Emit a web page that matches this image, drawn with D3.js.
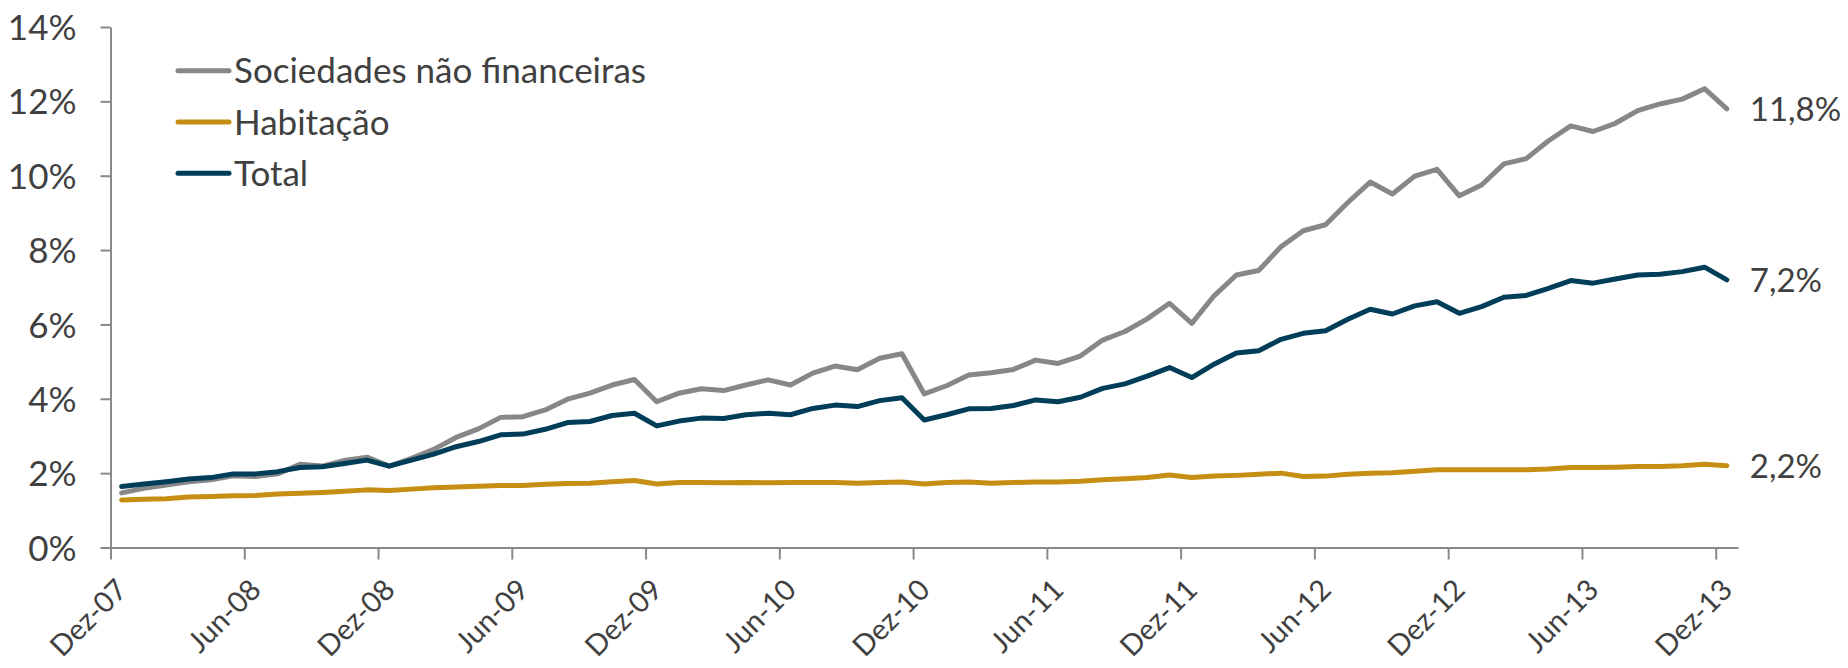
<!DOCTYPE html>
<html>
<head>
<meta charset="utf-8">
<script src="https://cdn.jsdelivr.net/npm/d3@7/dist/d3.min.js"></script>
<style>
  html, body { margin: 0; padding: 0; background: #ffffff; }
  svg { display: block; }
  text { font-family: Lato, "Open Sans", sans-serif; fill: #404040; }
</style>
</head>
<body>
<svg id="chart" width="1848" height="668"></svg>
<script>
// ---- DATA ----
const categories = [
  "Dez-07",
  "Jan-08","Fev-08","Mar-08","Abr-08","Mai-08","Jun-08","Jul-08","Ago-08","Set-08","Out-08","Nov-08","Dez-08",
  "Jan-09","Fev-09","Mar-09","Abr-09","Mai-09","Jun-09","Jul-09","Ago-09","Set-09","Out-09","Nov-09","Dez-09",
  "Jan-10","Fev-10","Mar-10","Abr-10","Mai-10","Jun-10","Jul-10","Ago-10","Set-10","Out-10","Nov-10","Dez-10",
  "Jan-11","Fev-11","Mar-11","Abr-11","Mai-11","Jun-11","Jul-11","Ago-11","Set-11","Out-11","Nov-11","Dez-11",
  "Jan-12","Fev-12","Mar-12","Abr-12","Mai-12","Jun-12","Jul-12","Ago-12","Set-12","Out-12","Nov-12","Dez-12",
  "Jan-13","Fev-13","Mar-13","Abr-13","Mai-13","Jun-13","Jul-13","Ago-13","Set-13","Out-13","Nov-13","Dez-13"
];
const xTickLabels = ["Dez-07","Jun-08","Dez-08","Jun-09","Dez-09","Jun-10","Dez-10","Jun-11","Dez-11","Jun-12","Dez-12","Jun-13","Dez-13"];
const yTicks = [0, 2, 4, 6, 8, 10, 12, 14];
const seriesNames = ["Sociedades não financeiras", "Habitação", "Total"];
const sociedades = [
  1.47,1.59,1.68,1.77,1.82,1.93,1.91,1.98,2.24,2.19,2.34,2.43,2.19,
  2.40,2.64,2.96,3.19,3.50,3.52,3.70,3.99,4.15,4.37,4.52,3.92,
  4.15,4.27,4.22,4.37,4.51,4.37,4.69,4.88,4.78,5.09,5.21,4.13,
  4.35,4.64,4.70,4.79,5.04,4.95,5.15,5.58,5.81,6.15,6.57,6.03,
  6.77,7.33,7.45,8.09,8.52,8.68,9.28,9.83,9.51,9.99,10.17,9.46,
  9.75,10.32,10.46,10.94,11.34,11.19,11.41,11.75,11.93,12.06,12.34,11.80
];
const habitacao = [
  1.28,1.30,1.31,1.36,1.37,1.39,1.40,1.44,1.46,1.48,1.51,1.55,1.53,
  1.57,1.61,1.63,1.65,1.67,1.67,1.70,1.72,1.73,1.77,1.80,1.71,
  1.75,1.75,1.74,1.75,1.74,1.75,1.75,1.75,1.73,1.75,1.76,1.71,
  1.75,1.76,1.73,1.75,1.76,1.76,1.78,1.82,1.85,1.88,1.95,1.88,
  1.92,1.94,1.97,2.00,1.91,1.92,1.97,2.00,2.01,2.05,2.09,2.09,
  2.09,2.09,2.09,2.11,2.15,2.15,2.16,2.18,2.18,2.20,2.24,2.20
];
const total = [
  1.64,1.71,1.77,1.84,1.88,1.98,1.98,2.04,2.15,2.17,2.26,2.35,2.19,
  2.35,2.51,2.71,2.85,3.03,3.05,3.18,3.36,3.39,3.55,3.61,3.27,
  3.40,3.48,3.47,3.57,3.61,3.57,3.74,3.83,3.79,3.95,4.03,3.43,
  3.57,3.73,3.74,3.82,3.97,3.92,4.04,4.28,4.40,4.61,4.84,4.57,
  4.93,5.23,5.29,5.60,5.76,5.83,6.14,6.41,6.28,6.50,6.61,6.30,
  6.48,6.73,6.78,6.97,7.18,7.11,7.22,7.33,7.35,7.42,7.54,7.20
];
const endLabels = ["11,8%", "2,2%", "7,2%"];
const colors = ["#878787", "#C68E12", "#003D58"];

// ---- CHART ----
(function () {
const svg = d3.select("#chart");
const plotLeft = 110.5, plotRight = 1738, plotTop = 27, plotBottom = 547.5;
const FS = 35;
const XFS = 29;
const EFS = 33;

const x = d3.scaleLinear().domain([0, categories.length]).range([plotLeft, plotRight]);
const y = d3.scaleLinear().domain([0, 14]).range([plotBottom, plotTop]);

const series = [sociedades, habitacao, total];

// Y axis
const yAxis = svg.append("g")
  .attr("transform", `translate(${plotLeft},0)`)
  .call(d3.axisLeft(y).tickValues(yTicks).tickFormat(d => d + "%").tickSize(10).tickSizeOuter(0).tickPadding(24));
yAxis.select(".domain").attr("stroke", "#898989").attr("stroke-width", 2);
yAxis.selectAll(".tick line").attr("stroke", "#898989").attr("stroke-width", 2);
yAxis.selectAll(".tick text").attr("font-size", FS).attr("font-family", "Lato").attr("fill", "#404040").attr("dy", "0.36em");

// X axis
const tickIdx = xTickLabels.map(l => categories.indexOf(l));
const xAxis = svg.append("g")
  .attr("transform", `translate(0,${plotBottom})`)
  .call(d3.axisBottom(x).tickValues(tickIdx).tickFormat(i => categories[i]).tickSize(12).tickSizeOuter(0));
xAxis.select(".domain").attr("stroke", "#898989").attr("stroke-width", 2);
xAxis.selectAll(".tick line").attr("stroke", "#898989").attr("stroke-width", 2);
xAxis.selectAll(".tick text")
  .attr("font-size", XFS).attr("font-family", "Lato").attr("fill", "#404040")
  .attr("text-anchor", "end")
  .attr("y", 0).attr("dy", 0)
  .attr("transform", "translate(18,44) rotate(-45)");

// Lines
const line = d3.line().x((d, i) => x(i + 0.5)).y(d => y(d));
series.forEach((s, k) => {
  svg.append("path")
    .datum(s)
    .attr("fill", "none")
    .attr("stroke", colors[k])
    .attr("stroke-width", 5)
    .attr("stroke-linejoin", "round")
    .attr("stroke-linecap", "round")
    .attr("d", line);
});

// End labels
series.forEach((s, k) => {
  svg.append("text")
    .attr("x", x(s.length - 0.5) + 23)
    .attr("y", y(s[s.length - 1]))
    .attr("dy", "0.36em")
    .attr("font-size", EFS)
    .text(endLabels[k]);
});

// Legend
[0, 1, 2].forEach((k, r) => {
  const ly = 70.7 + r * 51.3;
  svg.append("line")
    .attr("x1", 178).attr("x2", 229)
    .attr("y1", ly).attr("y2", ly)
    .attr("stroke", colors[k]).attr("stroke-width", 5).attr("stroke-linecap", "round");
  svg.append("text")
    .attr("x", 234).attr("y", ly).attr("dy", "0.36em")
    .attr("font-size", FS)
    .text(seriesNames[k]);
});
})();
</script>
</body>
</html>
